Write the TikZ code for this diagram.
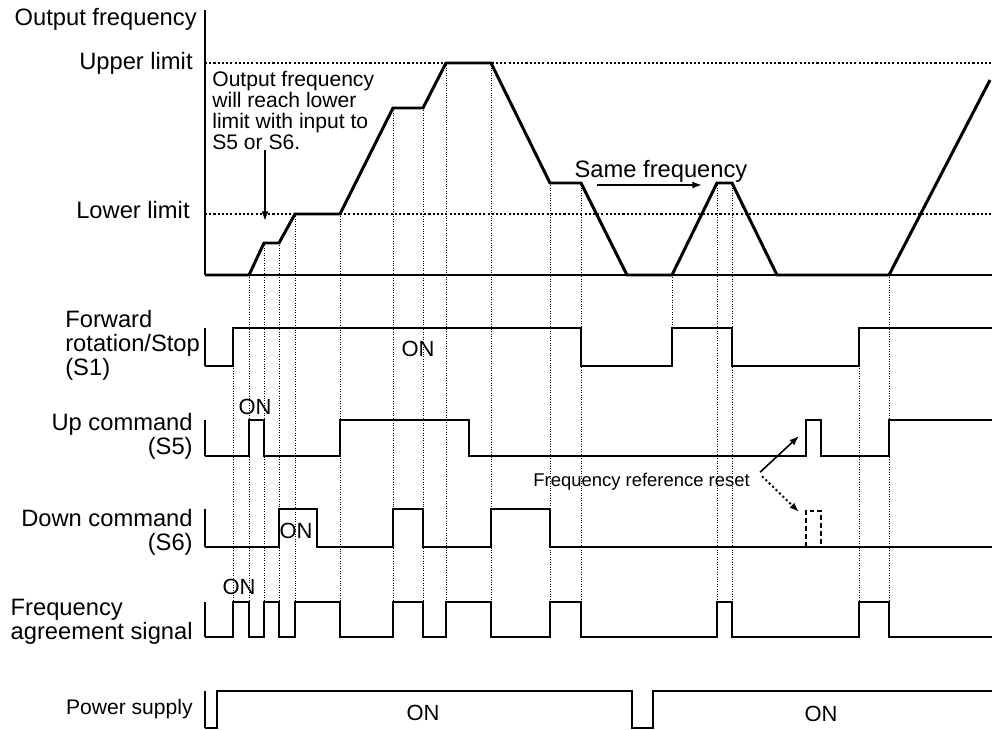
\documentclass[tikz,border=0pt]{standalone}
\usepackage{fontspec}
\setmainfont{Liberation Sans}
\usetikzlibrary{positioning,arrows.meta,calc}

\tikzset{
  sig/.style={line width=1.7pt},
  tick/.style={line width=0.9pt},
  guide/.style={densely dotted, line width=0.4pt},
  limit/.style={dash pattern=on 1.2pt off 1.2pt, line width=0.9pt},
  lbl/.style={font=\fontsize{13.5}{13.6}\selectfont, inner sep=0pt},
  lblsmall/.style={font=\fontsize{12}{12}\selectfont, inner sep=0pt},
  note/.style={font=\fontsize{12}{11.9}\selectfont, inner sep=0pt},
  onlbl/.style={font=\fontsize{12.5}{13}\selectfont, inner sep=0pt},
}

\begin{document}
\begin{tikzpicture}[x=0.02cm, y=-0.02cm, >={Latex[length=5.5pt,width=4pt]}]
    \useasboundingbox (0,0) rectangle (992,730);

    % Eixo da frequencia de saida
    \draw[tick] (205,10) -- (205,275);
    \draw[sig] (205,275) -- (992,275);
    \draw[limit] (205,63) -- (992,63);
    \draw[limit] (205,214) -- (992,214);
    \node[lbl, anchor=base east] (fout) at (197,26) {Output frequency};
    \node[lbl, anchor=base east] (upper) at (193,70) {Upper limit};
    \node[lbl, anchor=base east] (lower) at (190,218) {Lower limit};

    % Linhas de referencia verticais
    \draw[guide] (233,366) -- (233,602) (249,275) -- (249,602) (264,243) -- (264,602)
        (279,243) -- (279,602) (295,214) -- (295,602) (340,214) -- (340,602)
        (393,108) -- (393,602) (423,108) -- (423,602) (446,63) -- (446,602)
        (491,63) -- (491,602) (550,183) -- (550,602) (581,183) -- (581,602)
        (672,275) -- (672,328) (717,183) -- (717,602) (732,183) -- (732,602)
        (859,366) -- (859,602) (889,275) -- (889,602);

    % Frequencia de saida
    \draw[sig] (205,275) -- (249,275) -- (264,243) -- (279,243) -- (295,214) -- (340,214)
        -- (393,108) -- (423,108) -- (446,63) -- (491,63) -- (550,183) -- (581,183)
        -- (627,275) -- (672,275) -- (717,183) -- (732,183) -- (777,275) -- (889,275)
        -- (990,80);

    % Observacoes
    \node[note, anchor=north west, align=left] (hint) at (212,71)
        {Output frequency\\will reach lower\\limit with input to\\S5 or S6.};
    \coordinate (hinttip) at (265,221);
    \draw[->, line width=0.9pt] (hinttip |- hint.south) -- (hinttip);
    \node[lbl, anchor=base] (same) at (661,177) {Same frequency};
    \coordinate (samefrom) at (597,185);
    \coordinate (sameto) at (702,185);
    \draw[->, line width=0.9pt] (samefrom) -- (sameto);

    % Rotacao direta/parada (S1)
    \node[lbl, anchor=west, align=left] (s1) at (65,345) {Forward\\rotation/Stop\\(S1)};
    \draw[tick] (205,328) -- (205,366);
    \draw[sig] (205,366) -- (233,366) -- (233,328) -- (581,328) -- (581,366) -- (672,366)
        -- (672,328) -- (732,328) -- (732,366) -- (859,366) -- (859,328) -- (992,328);
    \node[onlbl] (s1on) at (418,349) {ON};

    % Comando subir (S5)
    \node[lbl, anchor=east, align=right] (s5) at (193,436) {Up command\\(S5)};
    \draw[tick] (205,420) -- (205,456);
    \draw[sig] (205,456) -- (249,456) -- (249,420) -- (264,420) -- (264,456) -- (340,456)
        -- (340,420) -- (469,420) -- (469,456) -- (806,456) -- (806,420) -- (821,420)
        -- (821,456) -- (889,456) -- (889,420) -- (992,420);
    \node[onlbl] (s5on) at (255,407) {ON};

    % Comando descer (S6)
    \node[lbl, anchor=east, align=right] (s6) at (193,532) {Down command\\(S6)};
    \draw[tick] (205,509) -- (205,547);
    \draw[sig] (205,547) -- (279,547) -- (279,509) -- (317,509) -- (317,547) -- (393,547)
        -- (393,509) -- (423,509) -- (423,547) -- (491,547) -- (491,509) -- (550,509)
        -- (550,547) -- (992,547);
    \draw[sig, dash pattern=on 2.8pt off 1.7pt] (806,547) -- (806,511) -- (821,511) -- (821,547);
    \node[onlbl] (s6on) at (296,531) {ON};

    % Reset da referencia
    \node[font=\fontsize{10.5}{11}\selectfont, inner sep=0pt, anchor=base west] (reset)
        at (533,486) {Frequency reference reset};
    \coordinate (resetup) at (799,436);
    \coordinate (resetdown) at (799,512);
    \draw[->, line width=0.9pt] ($(reset.east)+(10,-9)$) -- (resetup);
    \draw[->, line width=1.1pt, dash pattern=on 1.2pt off 1.5pt] ($(reset.east)+(12,-5)$) -- (resetdown);

    % Sinal de concordancia de frequencia
    \node[lbl, anchor=east, align=left] (fa) at (193,622) {Frequency\\agreement signal};
    \draw[tick] (205,602) -- (205,637);
    \draw[sig] (205,637) -- (233,637) -- (233,602) -- (249,602) -- (249,637) -- (264,637)
        -- (264,602) -- (279,602) -- (279,637) -- (295,637) -- (295,602) -- (340,602)
        -- (340,637) -- (393,637) -- (393,602) -- (423,602) -- (423,637) -- (446,637)
        -- (446,602) -- (491,602) -- (491,637) -- (550,637) -- (550,602) -- (581,602)
        -- (581,637) -- (717,637) -- (717,602) -- (732,602) -- (732,637) -- (859,637)
        -- (859,602) -- (889,602) -- (889,637) -- (992,637);
    \node[onlbl] (faon) at (239,587) {ON};

    % Alimentacao
    \node[lblsmall, anchor=east] (pw) at (193,709) {Power supply};
    \draw[tick] (205,691) -- (205,728);
    \draw[sig] (205,728) -- (217,728) -- (217,691) -- (632,691) -- (632,728) -- (653,728)
        -- (653,691) -- (992,691);
    \node[onlbl] (pwon) at (423,713) {ON};
    \node[onlbl] (pwontwo) at (821,714) {ON};
\end{tikzpicture}
\end{document}
